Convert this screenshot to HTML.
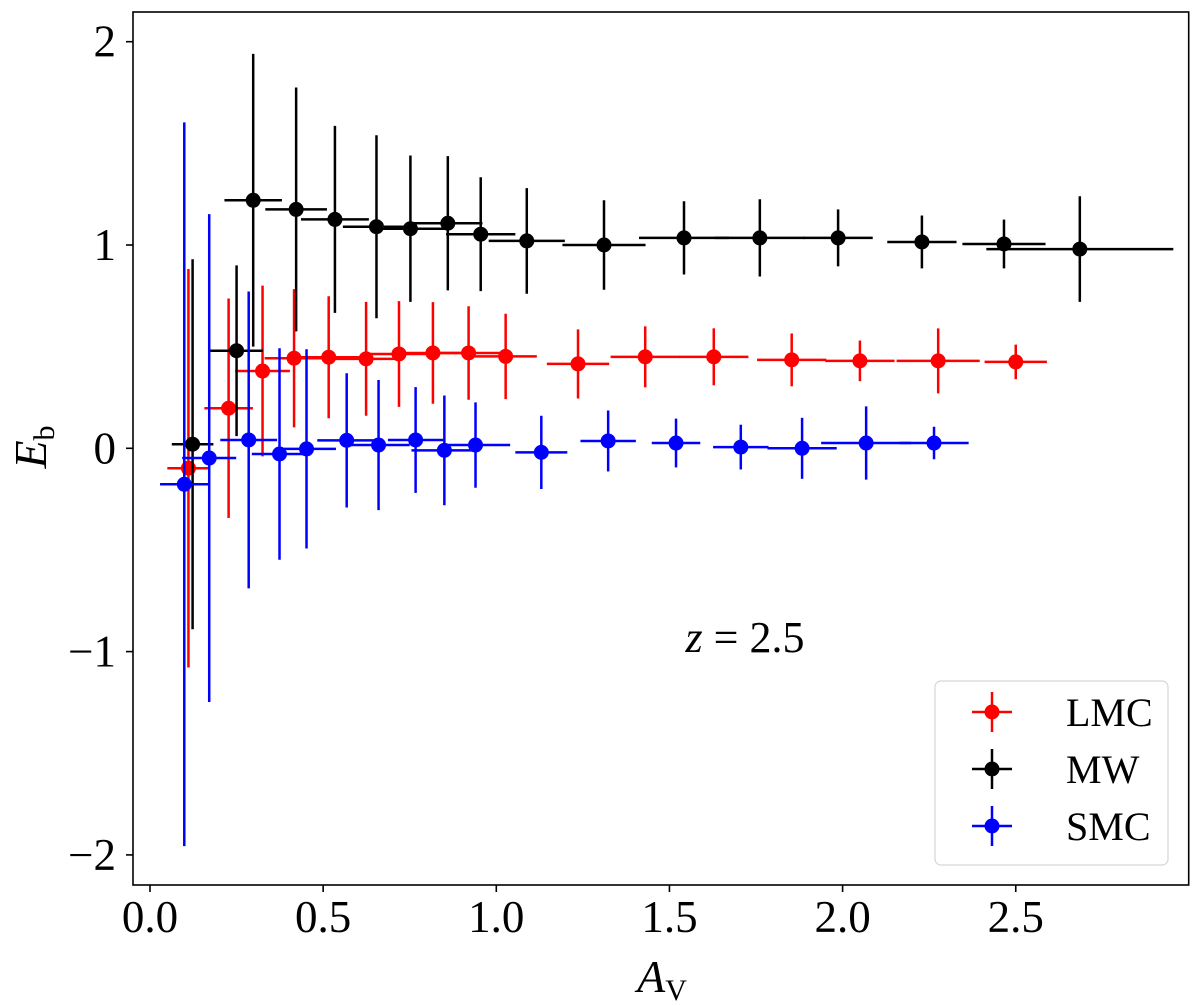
<!DOCTYPE html>
<html><head><meta charset="utf-8"><style>
html,body{margin:0;padding:0;background:#fff}
svg text{font-family:"Liberation Serif",serif;fill:#000}
</style></head><body>
<svg id="chart" width="1200" height="1001" xmlns="http://www.w3.org/2000/svg">
<g id="marks"></g>
<rect x="133" y="12" width="1055.7" height="873" fill="none" stroke="#000" stroke-width="1.6"/>
<g id="axes"></g>
<text x="745" y="652" font-size="44" text-anchor="middle"><tspan font-style="italic">z</tspan> = 2.5</text>
<text x="662" y="992" font-size="46" text-anchor="middle"><tspan font-style="italic">A</tspan><tspan font-size="30" dy="8">V</tspan></text>
<text transform="translate(46,447) rotate(-90)" font-size="46" text-anchor="middle"><tspan font-style="italic">E</tspan><tspan font-size="30" dy="8">b</tspan></text>
<g>
<rect x="935" y="681" width="233" height="184" rx="6" fill="#fff" stroke="#d6d6d6" stroke-width="1.2"/>
<g id="legend"></g>
</g>
</svg>
<script>
const xTicks = [0.0, 0.5, 1.0, 1.5, 2.0, 2.5];
const xTickLabels = ["0.0", "0.5", "1.0", "1.5", "2.0", "2.5"];
const yTicks = [-2, -1, 0, 1, 2];
const yTickLabels = ["\u22122", "\u22121", "0", "1", "2"];
const seriesNames = ["LMC", "MW", "SMC"];
const seriesColors = ["#ff0000", "#000000", "#0000ff"];

const lmcX = [0.111,0.227,0.325,0.416,0.516,0.624,0.719,0.817,0.92,1.027,1.236,1.43,1.628,1.853,2.05,2.276,2.5];
const lmcY = [-0.098,0.197,0.38,0.443,0.448,0.44,0.464,0.469,0.469,0.452,0.415,0.45,0.45,0.435,0.43,0.43,0.425];
const lmcYErr = [0.98,0.54,0.42,0.34,0.30,0.28,0.26,0.25,0.23,0.21,0.17,0.15,0.14,0.13,0.10,0.16,0.085];
const lmcXErr = [0.061,0.07,0.079,0.085,0.09,0.092,0.095,0.1,0.1,0.09,0.09,0.1,0.1,0.1,0.1,0.12,0.09];

const mwX = [0.123,0.25,0.298,0.422,0.534,0.654,0.752,0.86,0.955,1.088,1.311,1.542,1.761,1.987,2.229,2.466,2.685];
const mwY = [0.02,0.48,1.22,1.175,1.126,1.09,1.08,1.107,1.053,1.02,1.0,1.035,1.035,1.035,1.015,1.005,0.98];
const mwYErr = [0.91,0.42,0.72,0.6,0.46,0.45,0.36,0.33,0.28,0.26,0.22,0.18,0.19,0.14,0.13,0.12,0.26];
const mwXErr = [0.06,0.076,0.083,0.089,0.098,0.097,0.1,0.1,0.1,0.11,0.12,0.13,0.13,0.1,0.1,0.12,0.27];

const smcX = [0.099,0.171,0.285,0.374,0.452,0.568,0.66,0.767,0.85,0.94,1.13,1.323,1.519,1.706,1.883,2.068,2.264];
const smcY = [-0.177,-0.048,0.041,-0.028,-0.003,0.039,0.016,0.041,-0.01,0.016,-0.02,0.036,0.026,0.006,0.0,0.026,0.026];
const smcYErr = [1.78,1.2,0.73,0.52,0.49,0.33,0.32,0.26,0.27,0.21,0.18,0.15,0.12,0.11,0.15,0.18,0.08];
const smcXErr = [0.07,0.078,0.082,0.08,0.085,0.085,0.09,0.08,0.095,0.1,0.075,0.08,0.07,0.08,0.1,0.13,0.1];

function sx(v){ return 150 + v * 346.3; }
function sy(v){ return 448.3 - v * 203.3; }

const NS = "http://www.w3.org/2000/svg";
function mk(tag, attrs){ const e = document.createElementNS(NS, tag); for (const k in attrs) e.setAttribute(k, attrs[k]); return e; }

const axes = document.getElementById('axes');
xTicks.forEach((t, i) => {
  const l = mk('line', {x1: sx(t), x2: sx(t), y1: 885, y2: 892, stroke: '#000', 'stroke-width': 1.6});
  
  
  axes.appendChild(l);
  const tx = mk('text', {x: sx(t), y: 932, 'font-size': 45, 'text-anchor': 'middle'});
  
  
  tx.textContent = xTickLabels[i];
  axes.appendChild(tx);
});
yTicks.forEach((t, i) => {
  const l = mk('line', {x1: 126, x2: 133, y1: sy(t), y2: sy(t), stroke: '#000', 'stroke-width': 1.6});
  
  
  axes.appendChild(l);
  const tx = mk('text', {x: 116, y: sy(t) + 15, 'font-size': 45, 'text-anchor': 'end'});
  
  
  tx.textContent = yTickLabels[i];
  axes.appendChild(tx);
});

const marks = document.getElementById('marks');
function drawSeries(name, color, xs, ys, xe, ye){
  const g = mk('g', {});
  
  
  xs.forEach((x, i) => {
    const v = mk('line', {x1: sx(x), x2: sx(x), y1: sy(ys[i] + ye[i]), y2: sy(ys[i] - ye[i]), stroke: color, 'stroke-width': 2.5});
    
    
    g.appendChild(v);
    const h = mk('line', {x1: sx(x - xe[i]), x2: sx(x + xe[i]), y1: sy(ys[i]), y2: sy(ys[i]), stroke: color, 'stroke-width': 2.5});
    
    
    g.appendChild(h);
    const c = mk('circle', {cx: sx(x), cy: sy(ys[i]), r: 7.5, fill: color});
    
    
    g.appendChild(c);
  });
  marks.appendChild(g);
}
drawSeries('LMC', seriesColors[0], lmcX, lmcY, lmcXErr, lmcYErr);
drawSeries('MW', seriesColors[1], mwX, mwY, mwXErr, mwYErr);
drawSeries('SMC', seriesColors[2], smcX, smcY, smcXErr, smcYErr);

const leg = document.getElementById('legend');
seriesNames.forEach((n, i) => {
  const y = 712 + i * 57;
  const g = mk('g', {});
  
  
  g.appendChild(mk('line', {x1: 992, x2: 992, y1: y - 20, y2: y + 20, stroke: seriesColors[i], 'stroke-width': 2.5}));
  g.appendChild(mk('line', {x1: 972, x2: 1012, y1: y, y2: y, stroke: seriesColors[i], 'stroke-width': 2.5}));
  g.appendChild(mk('circle', {cx: 992, cy: y, r: 7.5, fill: seriesColors[i]}));
  const t = mk('text', {x: 1066, y: y + 14, 'font-size': 40});
  t.textContent = n;
  g.appendChild(t);
  leg.appendChild(g);
});
</script>
</body></html>
